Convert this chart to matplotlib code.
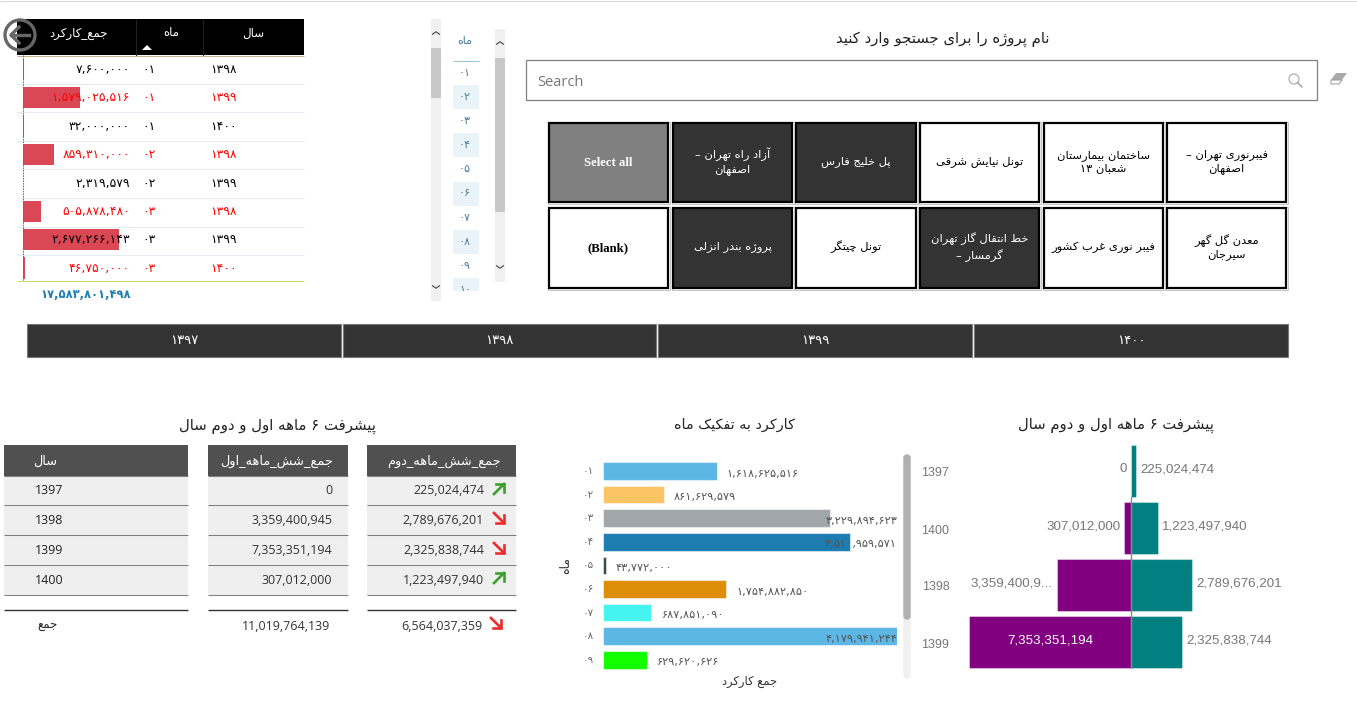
import matplotlib
matplotlib.use('Agg')
import matplotlib.pyplot as plt
from matplotlib.patches import Rectangle, Circle, Polygon, FancyBboxPatch

W, H = 1357, 715

# dati
top_years = [1398, 1399, 1400, 1398, 1399, 1398, 1399, 1400]
top_months = [1, 1, 1, 2, 2, 3, 3, 3]
top_values = [7600000, 1579025516, 32000000, 859310000, 2319579, 505878480, 2677266143, 46750000]
top_red = [0, 1, 0, 1, 0, 1, 0, 1]
top_total = 17583801498
slicer_months = [1, 2, 3, 4, 5, 6, 7, 8, 9, 10]
slicer_years = [1397, 1398, 1399, 1400]
button_labels = [['فیبرنوری تهران –\nاصفهان', 'ساختمان بیمارستان\nشعبان ۱۳', 'تونل نیایش شرقی', 'پل خلیج فارس', 'آزاد راه تهران –\nاصفهان', 'Select all'],
                 ['معدن گل گهر\nسیرجان', 'فیبر نوری غرب کشور', 'خط انتقال گاز تهران\nگرمسار –', 'تونل چیتگر', 'پروژه بندر انزلی', '(Blank)']]
button_state = [['w', 'w', 'w', 'd', 'd', 'g'],
                ['w', 'w', 'd', 'w', 'd', 'w']]

years = [1397, 1398, 1399, 1400]
first_half = [0, 3359400945, 7353351194, 307012000]
second_half = [225024474, 2789676201, 2325838744, 1223497940]
first_total = 11019764139
second_total = 6564037359

month_labels = [1, 2, 3, 4, 5, 6, 7, 8, 9]
month_values = [1618625516, 861629579, 3229894623, 3510959571, 43772000, 1754882850, 687851090, 4179941244, 629620626]
month_colors = ['#5db7e5', '#fac364', '#a0a7ab', '#1d7db0', '#374649', '#dd8d08', '#45f4ee', '#5db7e5', '#12ff00']

pyr_years = [1397, 1400, 1398, 1399]
pyr_first = [0, 307012000, 3359400945, 7353351194]
pyr_second = [225024474, 1223497940, 2789676201, 2325838744]
pyr_first_labels = ['0', '307,012,000', '3,359,400,9...', '7,353,351,194']

# forme di presentazione: isolata, finale, iniziale, mediana (le non connettive ne hanno due)
def _f(start, n=4):
    return [chr(start + i) for i in range(n)]

FORMS = {'ا': _f(0xfe8d, 2), 'آ': _f(0xfe81, 2), 'ب': _f(0xfe8f), 'پ': _f(0xfb56), 'ت': _f(0xfe95), 'ث': _f(0xfe99),
         'ج': _f(0xfe9d), 'چ': _f(0xfb7a), 'ح': _f(0xfea1), 'خ': _f(0xfea5), 'د': _f(0xfea9, 2), 'ذ': _f(0xfeab, 2),
         'ر': _f(0xfead, 2), 'ز': _f(0xfeaf, 2), 'ژ': _f(0xfb8a, 2), 'س': _f(0xfeb1), 'ش': _f(0xfeb5), 'ص': _f(0xfeb9),
         'ض': _f(0xfebd), 'ط': _f(0xfec1), 'ظ': _f(0xfec5), 'ع': _f(0xfec9), 'غ': _f(0xfecd), 'ف': _f(0xfed1),
         'ق': _f(0xfed5), 'ک': _f(0xfb8e), 'گ': _f(0xfb92), 'ل': _f(0xfedd), 'م': _f(0xfee1), 'ن': _f(0xfee5),
         'و': _f(0xfeed, 2), 'ه': _f(0xfee9), 'ی': _f(0xfbfc)}


def shape_word(word):
    out = []
    for i, c in enumerate(word):
        if c not in FORMS:
            out.append(c)
            continue
        forms = FORMS[c]
        prev = word[i - 1] if i > 0 else ''
        nxt = word[i + 1] if i < len(word) - 1 else ''
        join_prev = prev in FORMS and len(FORMS[prev]) == 4
        join_next = nxt in FORMS and len(forms) == 4
        if join_prev and join_next:
            out.append(forms[3])
        elif join_prev:
            out.append(forms[1])
        elif join_next:
            out.append(forms[2])
        else:
            out.append(forms[0])
    return ''.join(reversed(out))


def fa(text):
    lines = []
    for line in text.split('\n'):
        words = []
        for w in line.split(' '):
            if w[0] in '۰۱۲۳۴۵۶۷۸۹':
                words.append(w)
            else:
                words.append(shape_word(w))
        lines.append(' '.join(reversed(words)))
    return '\n'.join(lines)


def pd(n, pad=0):
    s = str(n).zfill(pad)
    return s.translate(str.maketrans('0123456789', '۰۱۲۳۴۵۶۷۸۹'))


def pnum(n):
    return pd(f'{n:,}')


FA = 'DejaVu Sans'
UI = 'Open Sans'

fig = plt.figure(figsize=(W / 100, H / 100), dpi=100)


def px_axes(x0, y0, x1, y1, z=1):
    ax = fig.add_axes([x0 / W, 1 - y1 / H, (x1 - x0) / W, (y1 - y0) / H], zorder=z)
    ax.patch.set_alpha(0)
    ax.axis('off')
    return ax


# overlay in pixel per testi e pannelli
ov = px_axes(0, 0, W, H, z=3)
ov.set_xlim(0, W)
ov.set_ylim(H, 0)


def box(x0, y0, x1, y1, fc, ec='none', lw=0, z=1):
    ov.add_patch(Rectangle((x0, y0), x1 - x0, y1 - y0, fc=fc, ec=ec, lw=lw, zorder=z))


def hline(y, x0, x1, c, lw=0.75, z=2):
    ov.plot([x0, x1], [y, y], color=c, lw=lw, zorder=z, solid_capstyle='butt')


def txt(x, y, s, size=9, color='k', ha='center', family=FA, weight='normal', z=5, **kw):
    ov.text(x, y, s, fontsize=size, color=color, ha=ha, va='center', family=family, weight=weight, zorder=z, **kw)


def chevron(x, y, up):
    d = -2.5 if up else 2.5
    ov.plot([x - 3.5, x, x + 3.5], [y - d / 2, y + d / 2, y - d / 2], color='#555555', lw=0.9, zorder=5)


hline(1, 0, W, '#d8d8d8')

# ---- tabella in alto a sinistra
row_h = 28.4
ax_top = px_axes(23.3, 55, 119.3, 280)
ax_top.set_xlim(0, max(top_values))
ax_top.set_ylim(225 / row_h, 0)
ax_top.barh([i + 0.5 for i in range(len(top_values))], top_values, height=0.74, color='#d94854', lw=0)

box(17, 19, 304, 55, 'black')
hline(55.5, 17, 304, '#c8b48c')
ov.plot([136, 136], [19, 55], color='#222222', lw=0.75, zorder=2)
ov.plot([203, 203], [19, 55], color='#222222', lw=0.75, zorder=2)
txt(78, 33, fa('جمع_کارکرد'), 8.5, 'white')
txt(171, 33, fa('ماه'), 8.5, 'white')
txt(253, 33, fa('سال'), 8.5, 'white')
ov.add_patch(Polygon([[142, 50], [152, 50], [147, 45]], fc='white', ec='none', zorder=3))
for i in range(len(top_values)):
    y = 69.5 + i * row_h
    c = 'red' if top_red[i] else 'black'
    txt(130, y, pnum(top_values[i]), 8.9, c, ha='right')
    txt(149, y, pd(top_months[i], 2), 8.9, c)
    txt(210, y, pd(top_years[i]), 8.9, c, ha='left')
    if i < len(top_values) - 1:
        hline(55 + (i + 1) * 28.6, 17, 304, '#e3edf3')
ov.plot([23.3, 23.3], [55, 280], color='#2a7fb5', lw=0.75, ls=(0, (1.5, 1)), zorder=2)
hline(280.5, 17, 304, '#c5d86d')
txt(131, 295, pnum(top_total), 8.3, '#1f7fb0', ha='right', weight='bold')

# bottone indietro
box(4, 20, 17, 50, 'white', z=1)
ov.add_patch(Circle((20, 35), 15, fc='none', ec='#666666', lw=2.4, zorder=6))
ov.plot([11, 29], [35, 35], color='#666666', lw=2.4, zorder=7)
ov.plot([19, 11, 19], [27, 35, 43], color='#666666', lw=2.4, zorder=7)

# ---- slicer mesi
box(431, 19, 441, 301, '#f0f0f0')
box(431, 48, 441, 98, '#c8c8c8')
chevron(436, 33, True)
chevron(436, 287, False)
txt(465, 41, fa('ماه'), 8, '#4a7fa0')
hline(61, 453, 479, '#9cc3de')
for i, m in enumerate(slicer_months):
    y = 73 + i * 24.1
    if i % 2 == 1:
        box(453, y - 12, 479, min(y + 12, 291), '#eaf3f8')
    txt(465, y, pd(m, 2), 8, '#4a7fa0')
box(450, 291, 482, 302, 'white', z=6)
box(495, 29, 505, 282, '#f0f0f0')
box(495, 58, 505, 212, '#c8c8c8')
chevron(500, 43, True)
chevron(500, 267, False)

# ---- ricerca
txt(943, 39, fa('نام پروژه را برای جستجو وارد کنید'), 10.7, '#222222')
box(526, 60, 1317, 100, 'white', '#808080', 0.9)
txt(537, 82, 'Search', 10.5, '#777777', ha='left', family=UI)
ov.add_patch(Circle((1294, 79), 5, fc='none', ec='#b0b0b0', lw=0.9, zorder=5))
ov.plot([1297.5, 1302], [82.5, 87], color='#a0a0a0', lw=1, zorder=5)
ov.add_patch(Polygon([[1336, 73], [1347, 73], [1342, 80], [1331, 80]], fc='#aaaaaa', ec='none', zorder=5))
ov.add_patch(Polygon([[1331, 80], [1342, 80], [1339, 84], [1331, 84]], fc='white', ec='#999999', lw=0.7, zorder=5))

# ---- pulsanti progetto
btn_x = [(1166, 1287), (1043, 1164), (919, 1040), (795, 917), (672, 793), (548, 669)]
btn_y = [(122, 203), (207, 289)]
fills = {'w': 'white', 'd': '#333333', 'g': '#808080'}
for r in range(2):
    y0, y1 = btn_y[r]
    for c in range(6):
        x0, x1 = btn_x[c]
        st = button_state[r][c]
        box(x0 - 0.5, y0 - 0.5, x1 + 0.5, y1 + 0.5, 'none', '#c4c4c4', 0.7)
        box(x0 + 1, y0 + 1, x1 - 1, y1 - 1, fills[st], 'black', 1.6)
        col = 'black' if st == 'w' else 'white'
        label = button_labels[r][c]
        if label in ('Select all', '(Blank)'):
            txt((x0 + x1) / 2, (y0 + y1) / 2, label, 9.2, col, family='Liberation Serif', weight='bold')
        else:
            txt((x0 + x1) / 2, (y0 + y1) / 2 - 1, fa(label), 8.25, col, linespacing=1.35)

# ---- pulsanti anno
yr_x = [(27, 341), (343, 656), (658, 972), (974, 1288)]
for (x0, x1), yr in zip(yr_x, slicer_years):
    box(x0, 324, x1, 357, '#333333', '#777777', 0.8)
    txt((x0 + x1) / 2, 340, pd(yr), 9.5, 'white')

# ---- tre tabelle in basso
txt(277, 426, fa('پیشرفت ۶ ماهه اول و دوم سال'), 10.7, '#222222')
cols = [(4, 188), (208, 348), (367, 516)]
heads = ['سال', 'جمع_شش_ماهه_اول', 'جمع_شش_ماهه_دوم']
head_x = [(57, 'right'), (333, 'right'), (501, 'right')]
row_y = [491, 520, 550, 580]
row_sep = [476, 505, 535, 565, 595]
for (x0, x1), h, (hx, ha) in zip(cols, heads, head_x):
    box(x0, 445, x1, 476, '#505050')
    box(x0, 476, x1, 595, '#efefef')
    for s in row_sep:
        hline(s, x0, x1, '#808080')
    hline(609.5, x0, x1, '#333333', 1)
    txt(hx, 461, fa(h), 9.3, 'white', ha=ha)


def trend_arrow(x, y, up):
    c = '#3aa02c' if up else '#ee2b2b'
    if up:
        ov.plot([x - 5, x + 5], [y + 5, y - 5], color=c, lw=1.9, zorder=5)
        ov.plot([x - 3, x + 5, x + 5], [y - 5, y - 5, y + 3], color=c, lw=1.9, zorder=5, solid_joinstyle='miter')
    else:
        ov.plot([x - 5, x + 5], [y - 5, y + 5], color=c, lw=1.9, zorder=5)
        ov.plot([x - 3, x + 5, x + 5], [y + 5, y + 5, y - 3], color=c, lw=1.9, zorder=5, solid_joinstyle='miter')


for i, y in enumerate(row_y):
    txt(35, y, str(years[i]), 9, '#222222', ha='left', family=UI)
    txt(332, y, f'{first_half[i]:,}', 9, '#333333', ha='right', family=UI)
    txt(484, y, f'{second_half[i]:,}', 9, '#333333', ha='right', family=UI)
    trend_arrow(499, y - 2, second_half[i] > first_half[i])
txt(47, 626, fa('جمع'), 8.5, '#222222')
txt(330, 626, f'{first_total:,}', 9, '#333333', ha='right', family=UI)
txt(482, 626, f'{second_total:,}', 9, '#333333', ha='right', family=UI)
trend_arrow(496, 623, second_total > first_total)

# ---- barre per mese
txt(735, 425, fa('کارکرد به تفکیک ماه'), 10.4, '#222222')
step = 23.6
ax_m = px_axes(603, 459.2, 897, 459.2 + step * len(month_values))
ax_m.set_xlim(0, max(month_values))
ax_m.set_ylim(len(month_values) - 0.5, -0.5)
ax_m.barh(range(len(month_values)), month_values, height=0.75, color=month_colors, edgecolor='#ffffff80', lw=0.8)
to_px = 294 / max(month_values)
for i, v in enumerate(month_values):
    s = pnum(v)
    y = 471 + i * step + 2.5
    end = 603 + v * to_px + 10
    if end + 72 > 897:
        txt(897, y, s, 8.2, '#555555', ha='right')
    else:
        txt(end, y, s, 8.2, '#555555', ha='left')
    txt(588, 471 + i * step, pd(month_labels[i], 2), 7.5, '#666666')
txt(566, 566, fa('ماه'), 9, '#333333', rotation=90)
txt(750, 682, fa('جمع کارکرد'), 8.3, '#333333')
ov.add_patch(FancyBboxPatch((904, 455), 6, 223, boxstyle='round,pad=0,rounding_size=3', fc='#f0f0f0', ec='#f0f0f0', lw=1, zorder=2))
ov.add_patch(FancyBboxPatch((904, 455), 6, 164, boxstyle='round,pad=0,rounding_size=3', fc='#b0b0b0', ec='#b0b0b0', lw=1, zorder=2))

# ---- piramide
txt(1116, 425, fa('پیشرفت ۶ ماهه اول و دوم سال'), 10.6, '#222222')
ax_p = px_axes(969, 442.5, 1293, 670.5)
lim = max(pyr_first)
ax_p.set_xlim(-lim, lim)
ax_p.set_ylim(len(pyr_years) - 0.5, -0.5)
ax_p.barh(range(4), [-v for v in pyr_first], height=0.915, color='#800080', edgecolor='#ffffff60', lw=0.8)
ax_p.barh(range(4), pyr_second, height=0.915, color='#008080', edgecolor='#ffffff60', lw=0.8)
ax_p.plot([0, 0], [0.45, 3.46], color='#8a8a8a', lw=1)
scale = 162 / lim
LB = 'Liberation Sans'
for i in range(4):
    yc = 471 + i * 57
    txt(935.5, yc + 2.5, str(pyr_years[i]), 9, '#777777', family=LB)
    txt(1131 + pyr_second[i] * scale + 4, yc - 1.5, f'{pyr_second[i]:,}', 9.6, '#777777', ha='left', family=LB)
    if i == 3:
        txt(1050, yc - 1.5, pyr_first_labels[i], 9.6, 'white', family=LB)
    else:
        txt(1131 - pyr_first[i] * scale - 4, yc - 1.5, pyr_first_labels[i], 9.6, '#777777', ha='right', family=LB)

fig.savefig('out.png', dpi=100, facecolor='white')
